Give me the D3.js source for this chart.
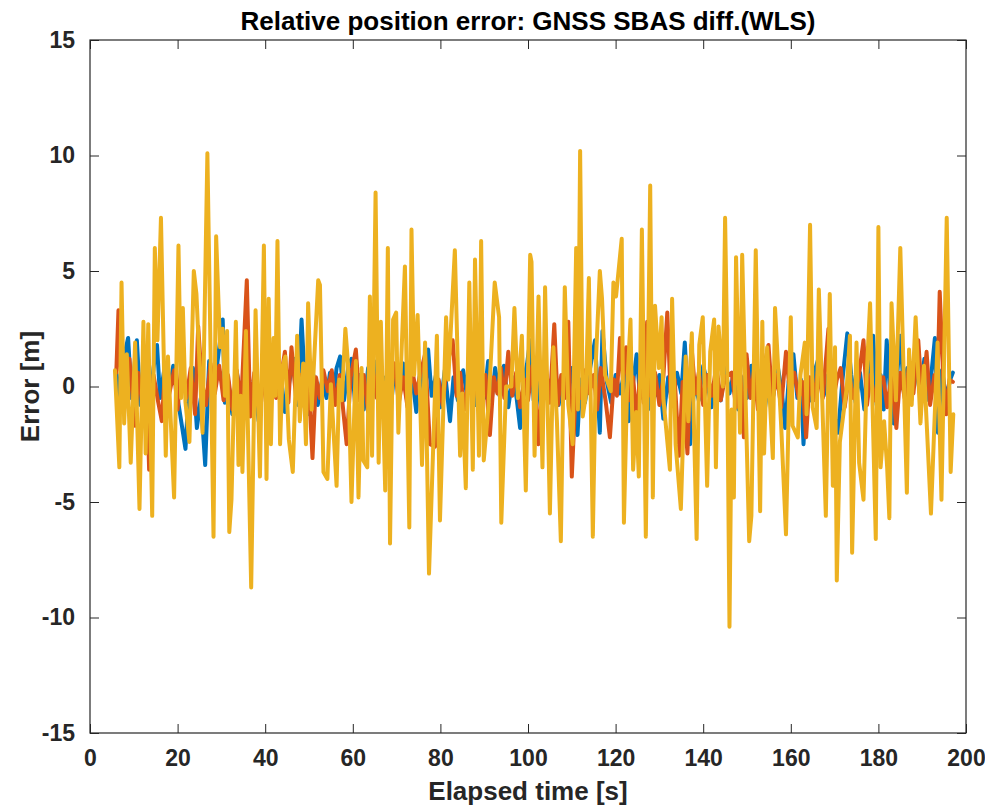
<!DOCTYPE html>
<html><head><meta charset="utf-8">
<script src="https://cdn.jsdelivr.net/npm/d3@7"></script>
<style>
html,body{margin:0;padding:0;background:#fff;}
text{font-family:"Liberation Sans",Arial,Helvetica,sans-serif;font-weight:bold;}
</style></head>
<body>
<svg id="chart" width="985" height="806"></svg>
<script>
// ---- data ----
const titleText = "Relative position error: GNSS SBAS diff.(WLS)";
const xLabelText = "Elapsed time [s]";
const yLabelText = "Error [m]";
const xTicks = [0,20,40,60,80,100,120,140,160,180,200];
const yTicks = [-15,-10,-5,0,5,10,15];
const seriesColors = ["#0072BD","#D95319","#EDB120"];

const blueT = [6,6.5,7,8,8.7,9.5,10.7,11.5,12.5,13.5,14.5,15.3,16,17,18,19,20,20.9,21.8,22.5,23.5,24.4,25.3,26.3,27.2,28,29,30.3,30.8,31.5,32.5,33.5,34.5,35.5,36.5,37.5,38.5,39.5,40.5,41.5,42.5,43.5,44.5,45.5,46.5,47.5,48.3,49,50,51,52,53,54,54.8,55.6,56.3,57.1,58,59,59.7,60.5,61.5,62.5,63.5,64.5,65.5,66.5,67.5,68.5,69.5,70.5,71.5,72.5,73.5,74.5,75.5,76.4,77.2,78,79,80,81,82.2,83,84,85.2,86,87,88,89,90,90.9,91.7,92.5,93.5,94.5,95.5,96.5,97.4,98.2,99,99.8,100.5,101.3,102,103,104,105,106,107,108,109,110,111.3,112,113,114,115.3,116.4,117,118,119,120,121,122,123,124,124.8,125.6,126.5,127.4,128.2,129,130,130.9,132,133,134,135,135.8,137,138,139,140,141,141.9,143,144,145,146,147,148,149,150,151,152,153,154,155,156,157,158,158.7,159.5,160.6,161.5,162.3,162.9,163.7,164.5,165.5,166.6,167.5,168.5,169.5,170.8,171.8,172.9,173.8,174.8,175.8,176.8,177.8,178.8,179.6,180.5,181.2,181.9,182.7,183.5,184.2,185,185.8,186.6,187.5,188.5,189.5,190.5,191.5,192.9,193.6,194.5,195.5,196.4,197];
const blueV = [0.6,-1.3,0.5,1.5,2.1,-0.5,2.0,-0.8,0.6,-1.2,0.8,1.8,-0.5,0.8,-0.3,0.9,-0.5,-1.6,-2.7,-0.3,0.8,-1.8,-0.5,-3.4,1.1,-0.2,0.9,2.9,-0.7,0.3,-1.2,0.6,-0.4,1.2,-0.9,0.4,-1.5,0.7,-0.6,1.0,-0.3,0.6,-1.1,0.2,1.2,-0.8,2.9,0.4,-1.2,0.5,-0.8,0.3,-0.5,0.6,-0.4,0.8,1.3,-0.6,0.9,1.2,-0.7,0.5,-1.0,0.8,-0.5,1.1,-0.9,0.4,-1.3,0.7,-0.2,1.0,-0.8,0.5,-1.1,0.9,-0.6,1.6,-0.4,0.5,-0.9,0.7,-1.5,0.4,-0.6,0.7,-0.3,0.6,-0.8,0.3,-0.5,1.1,-0.6,0.8,-0.4,0.9,-0.9,0.4,-0.5,-1.8,0.2,1.0,2.0,-0.6,0.5,-1.0,0.7,-0.4,1.3,-0.8,0.5,-0.2,0.8,-2.1,0.3,-0.7,0.6,2.0,-2.0,2.4,0.2,-0.7,0.5,-0.3,0.6,-1.5,0.2,1.4,-0.5,0.8,-1.0,0.7,-0.4,0.5,-1.4,0.4,-0.8,0.6,-0.3,1.9,-2.5,0.2,-0.6,0.9,0.1,-0.9,0.5,-0.6,0.8,-0.3,0.6,-1.0,0.4,-0.5,0.9,-0.2,0.6,-1.1,0.5,-0.4,0.9,-0.3,-1.8,0.2,1.4,-0.5,0.3,-2.5,0.2,-0.6,0.7,1.4,-0.4,0.5,-0.9,-2.0,0.3,2.3,0.5,-0.7,0.6,-1.0,0.4,2.2,-0.8,0.5,-1.0,2.0,-0.4,-1.6,0.3,2.2,-0.2,0.8,-0.6,0.9,-0.3,1.2,-0.6,2.1,-2.0,0.7,-0.5,0.3,0.6];

const orangeT = [6,6.5,7,8,9,10.3,11,12,12.8,13.5,14.5,15.5,16.4,17.2,18,19.2,20,21,22,23,24,24.7,25.5,26.5,27.5,28.5,29.5,30.5,31.5,32.5,33.5,34.5,35.8,36.6,37.5,38.5,39.5,40.5,41.5,42.5,43.5,44.5,45.3,46,47,48,49,49.8,50.8,51.6,52.5,53.3,54.3,55.2,56,57,58.6,59.5,60.7,61.5,62.5,63.5,64.5,65.5,66.5,67.5,68.5,69.5,70.5,71.5,72.5,73.5,74.5,75.5,76.5,77.6,78.8,79.6,80.5,81.5,82.8,83.7,84.5,85.5,86.5,87.5,88.5,89.5,90.3,91.3,92.2,93,93.8,94.6,95.5,96.4,97.3,98.2,99.2,100,101,101.7,102.4,103.2,104,105,106,106.8,107.6,108.4,109.2,110,111,112,113,114,115,115.8,116.6,117.7,118.7,119.6,120.3,121,121.7,122.4,123.2,124,124.8,125.6,126.4,127.2,128,129,130,130.9,131.8,132.6,133.5,134.5,135.3,136.4,137.3,138.2,139,140,141,142,143,144,145,146.5,147.5,148.5,149.3,149.9,150.8,151.6,152.5,153.5,154.9,155.8,156.8,157.8,158.9,159.8,160.8,161.8,162.7,163.5,164.3,165.2,166.2,167.3,168.6,169.5,170.5,171.4,172.3,173.3,174.3,175.5,176.6,177.4,178.2,179.2,180.2,181.1,182,183,184.1,185,186,187,188,189.1,190,191,191.8,192.8,193.4,194,194.8,195.5,196.2,197];
const orangeV = [0.6,3.3,0.7,-0.5,1.2,-1.7,0.6,-0.8,1.0,-3.6,0.5,-0.6,-1.5,0.9,-0.4,0.7,-1.0,1.3,-0.5,0.8,-1.2,2.6,0.3,-0.8,1.0,-0.3,0.9,-0.6,0.5,-1.0,0.7,-0.8,4.6,-1.3,0.6,-0.9,0.4,-1.2,1.1,-0.5,0.3,1.5,-0.7,1.7,-0.4,0.5,-0.9,0.6,-3.1,0.4,-0.5,0.7,-0.2,0.7,-0.8,0.5,-2.5,0.4,1.6,-0.6,0.5,-1.1,0.9,-0.5,0.6,-1.4,0.3,1.0,-0.7,0.4,-0.9,0.8,-0.3,0.6,1.4,-2.5,-2.6,0.3,-0.8,0.9,2.0,-0.4,0.6,-1.0,0.4,-0.5,0.8,-0.6,0.5,-2.1,0.4,-0.3,0.8,-0.5,1.5,-0.4,0.6,-0.9,0.3,-0.6,0.9,-0.4,-2.5,0.2,0.9,-0.7,2.7,-0.8,0.5,-0.5,2.8,-3.9,0.3,-0.5,0.7,-0.3,0.5,-1.0,0.8,-0.6,-2.2,0.3,-0.4,2.1,0.2,1.7,-0.6,0.4,-1.5,0.6,-0.7,2.8,-0.4,0.6,-0.8,0.4,3.2,-0.5,0.3,-3.0,0.2,-2.9,1.8,-0.3,0.6,-0.8,0.5,-0.4,0.9,-0.6,0.4,0.6,-0.9,0.5,-2.2,1.4,-0.5,0.7,-1.0,0.4,1.8,-0.6,0.5,-0.9,1.5,-0.3,0.6,-0.5,0.2,-2.2,0.4,-0.6,0.7,-0.5,2.5,-0.8,0.3,0.8,-0.9,0.5,-0.5,0.4,2.0,-0.8,0.5,-0.6,0.3,0.4,-0.9,0.5,-1.8,0.6,-0.5,0.9,-0.3,2.0,-0.6,1.5,-0.8,0.5,-0.6,4.1,0.4,-1.2,0.3,0.2];

const yellowT = [5.7,6.7,7.2,7.8,8.4,9.3,10.3,11.3,12.2,12.7,13.3,14.2,14.8,15.4,16.2,17.3,17.8,19.2,20.2,20.8,21.2,21.8,22.7,23.7,24.3,25.7,26.8,28.2,28.8,29.7,30.3,30.8,31.3,31.8,32.3,33.3,33.9,34.4,34.8,35.6,36.8,37.8,38.8,39.7,40.3,40.8,41.3,41.9,42.3,42.8,43.4,44.0,44.6,45.4,46.3,47.3,47.9,48.7,49.3,49.8,50.6,52.1,52.5,53.3,54.2,55.0,56.3,56.9,57.5,58.3,58.9,59.7,60.7,61.3,62.0,62.4,63.3,63.9,64.4,65.2,65.9,66.4,67.4,68.0,68.5,69.2,69.9,70.4,71.9,72.9,73.4,74.0,74.8,75.8,76.5,77.4,79.2,79.9,81.3,81.8,83.3,84.5,85.0,85.8,86.6,87.4,87.9,88.8,89.3,89.9,91.0,92.4,93.4,93.9,95.0,96.2,96.9,97.7,98.6,99.5,100.5,100.8,101.5,102.4,103.3,103.9,105.0,105.8,106.6,107.5,108.4,109.2,110.2,111.0,111.4,111.9,112.5,113.2,113.9,114.8,115.5,116.4,116.9,117.6,118.9,119.5,120.1,121.4,121.9,122.6,123.4,124.0,124.7,125.3,126.0,126.9,127.9,128.5,129.0,129.9,130.5,130.9,132.4,132.9,133.7,134.9,136.0,136.6,137.4,138.5,139.1,139.9,140.9,141.6,142.5,142.9,143.5,144.5,145.0,145.4,146.0,146.5,147.0,147.5,148.4,148.9,149.7,150.5,151.0,152.0,153.0,153.5,153.9,154.6,155.9,156.4,157.8,158.9,160.0,160.4,161.6,162.2,163.2,163.6,164.4,165.0,165.9,166.4,168.0,168.9,169.6,170.1,170.5,171.2,172.8,173.5,174.0,175.0,175.6,176.6,177.3,178.1,179.4,180.0,180.5,181.3,182.0,182.5,183.0,184.0,185.0,186.5,187.0,187.6,188.5,189.6,190.4,192.0,193.5,194.4,195.6,196.5,197.1];
const yellowV = [0.7,-3.5,4.5,-1.6,1.4,-3.3,1.9,-5.3,2.8,-2.9,2.7,-5.6,6.0,2.0,7.3,-3.0,1.3,-4.8,6.1,-0.5,3.4,-0.7,-2.4,5.0,4.0,-2.0,10.1,-6.5,6.5,1.7,2.5,-0.4,2.4,-6.3,-4.9,2.8,-3.4,-0.4,-3.7,2.4,-8.7,3.3,-3.9,6.1,-4.0,3.8,-2.5,2.1,-0.4,6.3,-2.5,0.9,1.3,-2.3,-3.7,2.2,-1.5,1.0,-2.5,3.6,-1.0,4.6,4.4,-3.7,-4.0,0.1,-4.3,0.3,-0.6,2.5,1.0,-5.0,1.1,-4.8,0.8,-3.2,-3.5,3.9,-3.0,8.4,-3.3,2.8,-4.5,6.0,-6.8,2.9,3.2,-2.0,5.2,-6.1,6.8,0.5,3.1,-3.4,1.9,-8.1,2.2,-5.8,3.0,0.3,5.9,-3.0,-0.3,-4.4,4.5,-3.6,5.5,-3.0,6.3,-3.2,-0.8,4.5,3.0,-5.9,0.0,0.0,3.4,-0.5,2.2,-4.5,5.7,5.4,-3.0,3.9,-3.5,4.3,-5.5,1.7,-1.5,-6.7,4.3,-0.8,-2.5,6.0,-1.0,10.2,-1.3,-0.4,4.7,-6.5,1.1,5.0,3.8,0.5,-0.2,4.5,3.9,6.4,-5.9,-0.2,2.9,-3.6,-1.1,-3.9,6.8,-6.5,8.7,-4.8,3.5,0.8,3.0,-0.5,-3.6,3.8,-2.5,-5.3,1.3,-1.5,2.3,-6.6,1.8,3.0,-4.3,1.5,2.9,-3.5,2.6,0.0,7.3,2.5,-10.4,-1.0,-4.8,5.6,-2.0,5.7,-0.7,-6.7,-5.6,5.9,-5.4,2.8,-2.9,1.7,-3.1,3.4,-1.7,-6.4,3.0,-1.7,-2.2,0.5,1.9,-1.2,7.0,-0.9,-1.8,4.2,-5.6,4.0,-4.3,1.7,-8.4,-2.4,0.0,2.2,-7.2,1.9,-3.3,-4.9,0.4,3.6,-6.6,6.9,-3.5,-1.5,-3.5,-5.7,3.6,-0.6,6.0,-4.6,1.6,-0.8,3.0,-1.6,0.9,-5.5,1.9,-4.9,7.3,-3.7,-1.2];

// ---- chart ----
const W = 985, H = 806;
const m = {left: 90, right: 985 - 966, top: 40, bottom: 806 - 733};
const svg = d3.select("#chart");
const x = d3.scaleLinear().domain([0, 200]).range([m.left, W - m.right]);
const y = d3.scaleLinear().domain([-15, 15]).range([H - m.bottom, m.top]);
const axisColor = "#262626";
const tickLen = 9;
const fmt = d => String(d);

const series = [
  {t: blueT, v: blueV, color: seriesColors[0]},
  {t: orangeT, v: orangeV, color: seriesColors[1]},
  {t: yellowT, v: yellowV, color: seriesColors[2]}
];
const line = d3.line().x(d => x(d[0])).y(d => y(d[1]));
const gLines = svg.append("g");
series.forEach(s => {
  const pts = s.t.map((t, i) => [t, s.v[i]]);
  gLines.append("path").attr("d", line(pts))
    .attr("fill", "none").attr("stroke", s.color)
    .attr("stroke-width", 4).attr("stroke-linejoin", "round").attr("stroke-linecap", "round");
});

// axes
const fs = 23;
const gx = svg.append("g").attr("transform", `translate(0,${y(-15)})`)
  .call(d3.axisBottom(x).tickValues(xTicks).tickSize(-tickLen).tickPadding(17).tickFormat(fmt));
const gxt = svg.append("g").attr("transform", `translate(0,${y(15)})`)
  .call(d3.axisTop(x).tickValues(xTicks).tickSize(-tickLen).tickFormat(""));
const gy = svg.append("g").attr("transform", `translate(${x(0)},0)`)
  .call(d3.axisLeft(y).tickValues(yTicks).tickSize(-tickLen).tickPadding(15).tickFormat(fmt));
const gyr = svg.append("g").attr("transform", `translate(${x(200)},0)`)
  .call(d3.axisRight(y).tickValues(yTicks).tickSize(-tickLen).tickFormat(""));
[gx, gxt, gy, gyr].forEach(g => {
  g.select(".domain").remove();
  g.selectAll(".tick line").attr("stroke", axisColor).attr("stroke-width", 1);
  g.selectAll(".tick text").attr("fill", axisColor).style("font-size", fs + "px")
    .style("font-family", "'Liberation Sans',Arial,sans-serif").style("font-weight", "bold");
});
svg.append("rect").attr("x", x(0)).attr("y", y(15))
  .attr("width", x(200) - x(0)).attr("height", y(-15) - y(15))
  .attr("fill", "none").attr("stroke", axisColor).attr("stroke-width", 1.2);

// labels
svg.append("text").attr("x", (x(0) + x(200)) / 2).attr("y", 30)
  .attr("text-anchor", "middle").style("font-size", "26px").attr("fill", "#000").text(titleText);
svg.append("text").attr("x", (x(0) + x(200)) / 2).attr("y", 800)
  .attr("text-anchor", "middle").style("font-size", "26px").attr("fill", axisColor).text(xLabelText);
svg.append("text").attr("transform", `translate(39,${(y(15) + y(-15)) / 2}) rotate(-90)`)
  .attr("text-anchor", "middle").style("font-size", "26px").attr("fill", axisColor).text(yLabelText);
</script>
</body></html>
